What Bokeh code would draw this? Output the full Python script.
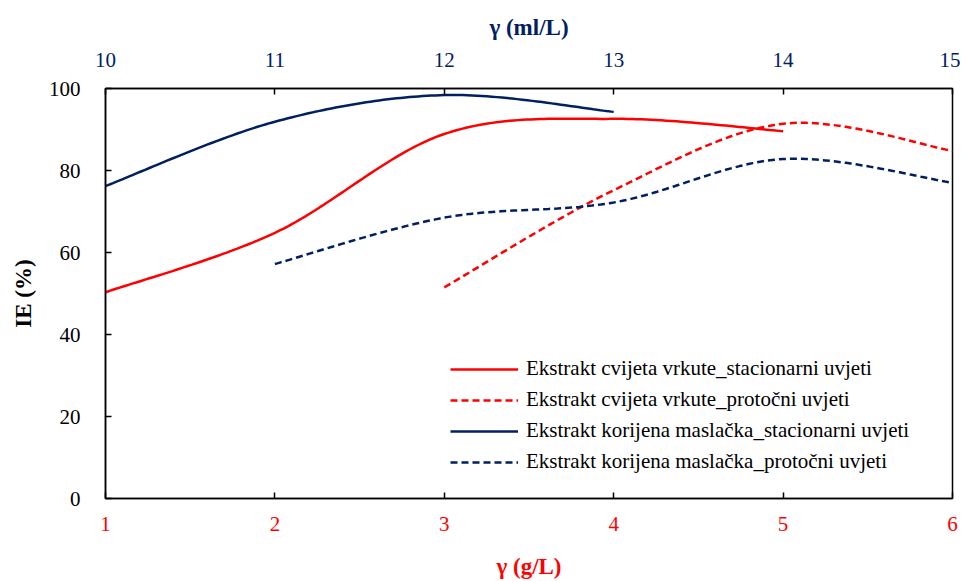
import numpy as np
from bokeh.plotting import figure
from bokeh.models import Range1d, LinearAxis, FixedTicker, Legend, LegendItem
from bokeh.embed import file_html
from bokeh.resources import INLINE

# ---- data ----
# Ekstrakt cvijeta vrkute (x in g/L, bottom axis)
vrkute_stac_x = [1, 2, 3, 4, 5]
vrkute_stac_y = [50.3, 64.8, 88.9, 92.6, 89.6]
vrkute_prot_x = [3, 4, 5, 6]
vrkute_prot_y = [51.5, 75.2, 91.4, 84.8]
# Ekstrakt korijena maslačka (x in ml/L, top axis)
maslacak_stac_x = [10, 11, 12, 13]
maslacak_stac_y = [76.2, 91.9, 98.4, 94.3]
maslacak_prot_x = [11, 12, 13, 14, 15]
maslacak_prot_y = [57.2, 68.5, 72.2, 82.8, 77.0]

bottom_ticks = [1, 2, 3, 4, 5, 6]
top_ticks = [10, 11, 12, 13, 14, 15]
left_ticks = [0, 20, 40, 60, 80, 100]

labels = [
    "Ekstrakt cvijeta vrkute_stacionarni uvjeti",
    "Ekstrakt cvijeta vrkute_protočni uvjeti",
    "Ekstrakt korijena maslačka_stacionarni uvjeti",
    "Ekstrakt korijena maslačka_protočni uvjeti",
]

RED = "#FF0000"
NAVY = "#002060"
FONT = "'Liberation Serif', serif"


def smooth(xs, ys, n=40):
    """Excel-style smoothed line (Catmull-Rom as cubic Bezier) for drawing."""
    P = np.column_stack([xs, ys]).astype(float)
    m = len(P)
    out = []
    for i in range(m - 1):
        p0 = P[i - 1] if i > 0 else P[i]
        p1 = P[i]
        p2 = P[i + 1]
        p3 = P[i + 2] if i + 2 < m else P[i + 1]
        c1 = p1 + (p2 - p0) / 6.0
        c2 = p2 - (p3 - p1) / 6.0
        t = np.linspace(0, 1, n)[:, None]
        seg = ((1 - t) ** 3) * p1 + 3 * ((1 - t) ** 2) * t * c1 + 3 * (1 - t) * t ** 2 * c2 + t ** 3 * p2
        if i > 0:
            seg = seg[1:]
        out.append(seg)
    arr = np.vstack(out)
    return arr[:, 0], arr[:, 1]


p = figure(
    width=960, height=581,
    output_backend="svg", toolbar_location=None,
    x_range=Range1d(1, 6), y_range=Range1d(0, 100),
    min_border_left=105, min_border_right=8,
    min_border_top=88, min_border_bottom=83,
)
p.extra_x_ranges = {"ml": Range1d(10, 15)}

p.xgrid.visible = False
p.ygrid.visible = False
p.outline_line_color = "black"
p.outline_line_width = 1.5
p.background_fill_color = "white"
p.border_fill_color = "white"


def style_axis(ax, color, label, standoff, title_standoff):
    ax.axis_line_color = "black"
    ax.axis_line_width = 1.5
    ax.major_tick_line_color = "black"
    ax.major_tick_line_width = 1.5
    ax.major_tick_in = 6
    ax.major_tick_out = 0
    ax.minor_tick_line_color = None
    ax.major_label_text_font = FONT
    ax.major_label_text_font_size = "21px"
    ax.major_label_text_color = color
    ax.major_label_standoff = standoff
    ax.axis_label = label
    ax.axis_label_text_font = FONT
    ax.axis_label_text_font_size = "23px"
    ax.axis_label_text_font_style = "bold"
    ax.axis_label_text_color = color
    ax.axis_label_standoff = title_standoff


xb = p.xaxis[0]
style_axis(xb, RED, "γ (g/L)", 18, 20)
xb.ticker = FixedTicker(ticks=bottom_ticks)

yl = p.yaxis[0]
style_axis(yl, "black", "IE (%)", 25, 10)
yl.ticker = FixedTicker(ticks=left_ticks)

xt = LinearAxis(x_range_name="ml")
style_axis(xt, NAVY, "γ (ml/L)", 22, 10)
xt.ticker = FixedTicker(ticks=top_ticks)
p.add_layout(xt, "above")

# ---- lines ----
sx, sy = smooth(vrkute_stac_x, vrkute_stac_y)
r1 = p.line(sx, sy, line_color=RED, line_width=2.5)
sx, sy = smooth(vrkute_prot_x, vrkute_prot_y)
r2 = p.line(sx, sy, line_color=RED, line_width=2.5, line_dash="7 4")
sx, sy = smooth(maslacak_stac_x, maslacak_stac_y)
r3 = p.line(sx, sy, line_color=NAVY, line_width=2.5, x_range_name="ml")
sx, sy = smooth(maslacak_prot_x, maslacak_prot_y)
r4 = p.line(sx, sy, line_color=NAVY, line_width=2.5, line_dash="7 4", x_range_name="ml")

legend = Legend(
    items=[LegendItem(label=labels[i], renderers=[r]) for i, r in enumerate([r1, r2, r3, r4])],
    location=(345, 24),
    border_line_color=None,
    background_fill_alpha=0,
    padding=0, margin=0, spacing=6,
    glyph_width=68, glyph_height=20, label_height=20,
    label_standoff=8,
    label_text_font=FONT, label_text_font_size="21px", label_text_color="black",
)
p.add_layout(legend)

open("out.html", "w").write(file_html(p, INLINE))
